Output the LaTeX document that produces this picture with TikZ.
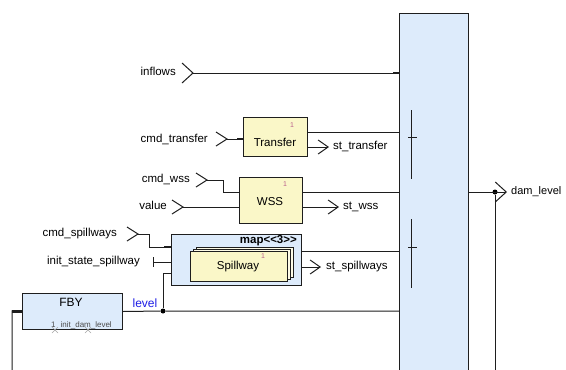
\documentclass[tikz,border=0pt]{standalone}
\usepackage{fontspec}
\setmainfont{Liberation Sans}
\usetikzlibrary{arrows.meta}

\definecolor{opfill}{RGB}{250,247,200}
\definecolor{nodefill}{RGB}{221,235,251}
\definecolor{wirecol}{RGB}{30,30,30}
\definecolor{idxcol}{RGB}{185,95,140}
\definecolor{lvlcol}{RGB}{30,30,230}

\begin{document}
\begin{tikzpicture}[x=1pt, y=-1pt, font=\fontsize{11.5}{13}\selectfont,
  >={Straight Barb[length=10pt, width=14pt]},
  wire/.style={draw=wirecol, line width=1pt},
  stub/.style={draw=wirecol, line width=2.4pt},
  box/.style={draw=wirecol, line width=1pt, anchor=north west, inner sep=0pt},
  opbox/.style={box, fill=opfill},
  bluebox/.style={box, fill=nodefill},
  inlbl/.style={anchor=east, inner sep=0pt, text height=8pt, text depth=2.5pt},
  outlbl/.style={anchor=west, inner sep=0pt, text height=8pt, text depth=2.5pt},
  idx/.style={font=\fontsize{7}{8}\selectfont, text=idxcol, inner sep=0pt},
  jn/.style={circle, fill=black, inner sep=0pt, minimum size=5pt},
  chev/.pic={\draw[wire] (-11,-7) -- (0,0) -- (-11,7);},
  bigchev/.pic={\draw[wire] (-11,-10) -- (0,0) -- (-11,10);},
  xmark/.pic={\draw[gray!70, line width=0.6pt] (-3,-3) -- (3,3) (-3,3) -- (3,-3);}]
\useasboundingbox (0,0) rectangle (566,370);
\fill[white] (0,0) rectangle (566,370);
\clip (0,0) rectangle (566,370);

% main operator block
\node[bluebox, minimum width=69, minimum height=370] (dam) at (399,13) {};
\draw[wire] (411,110) -- (411,179) (408,137) -- (417,137);
\draw[wire] (411,219) -- (411,288) (408,247) -- (417,247);

% inflows
\node[inlbl] (inflows) at (176,73) {inflows};
\coordinate (inflows-p) at (193,73);
\pic at (inflows-p) {bigchev};
\draw[wire] (inflows-p) -- (inflows-p -| dam.west);
\draw[stub] (inflows-p -| dam.west) -- ++(-6,0);

% Transfer
\node[opbox, minimum width=64, minimum height=39] (transfer) at (243,117) {};
\node (transfer-t) at (275,142) {Transfer};
\node[idx] (transfer-i) at (292,125) {1};
\node[inlbl] (cmdtr) at (208,140) {cmd\_transfer};
\coordinate (cmdtr-p) at (227,139);
\pic at (cmdtr-p) {chev};
\draw[wire] (cmdtr-p) -- (cmdtr-p -| transfer.west);
\draw[stub] (cmdtr-p -| transfer.west) -- ++(-6,0);
\draw[wire] (transfer.east |- 0,132) -- (dam.west |- 0,132);
\node[outlbl] (sttr) at (333,147) {st\_transfer};
\draw[wire, ->] (transfer.east |- sttr) -- ([xshift=-4pt]sttr.west);

% WSS
\node[opbox, minimum width=63, minimum height=46] (wss) at (239,177) {};
\node (wss-t) at (270,202) {WSS};
\node[idx] (wss-i) at (285,184) {1};
\node[inlbl] (cmdwss) at (190,180) {cmd\_wss};
\coordinate (cmdwss-p) at (207,180);
\pic at (cmdwss-p) {chev};
\draw[wire] (cmdwss-p) -- (223,180) -- (223,192) -- (wss.west |- 0,192);
\node[inlbl] (value) at (167,207) {value};
\coordinate (value-p) at (183,207);
\pic at (value-p) {chev};
\draw[wire] (value-p) -- (value-p -| wss.west);
\draw[wire] (wss.east |- 0,192) -- (dam.west |- 0,192);
\node[outlbl] (stwss) at (343,207) {st\_wss};
\draw[wire, ->] (wss.east |- stwss) -- ([xshift=-4pt]stwss.west);

% map<<3>> Spillway
\node[bluebox, minimum width=130, minimum height=51] (map) at (171,234) {};
\node[anchor=east, inner sep=0pt, font=\fontsize{11.5}{13}\selectfont\bfseries] (map-t) at (297,241) {map<\kern0pt<3>\kern0pt>};
\node[box, fill=opfill!45, minimum width=97, minimum height=30] (spw3) at (196,247) {};
\node[box, fill=opfill!45, minimum width=97, minimum height=30] (spw2) at (193,249) {};
\node[opbox, minimum width=97, minimum height=30] (spw) at (190,251) {};
\node (spw-t) at (238,267) {Spillway};
\node[idx] (spw-i) at (263,256) {1};
\node[inlbl] (cmdspw) at (117,234) {cmd\_spillways};
\coordinate (cmdspw-p) at (138,234);
\pic at (cmdspw-p) {chev};
\draw[wire] (cmdspw-p) -- (149,234) -- (149,247) -- (map.west |- 0,247);
\draw[stub] (map.west |- 0,247) -- ++(-7,0);
\node[inlbl] (initspw) at (140,262) {init\_state\_spillway};
\coordinate (initspw-p) at (153,262);
\draw[wire] (initspw-p) -- (initspw-p -| map.west);
\draw[wire] ([yshift=5pt]initspw-p) -- ([yshift=-5pt]initspw-p);
\draw[wire] (map.east |- 0,251) -- (dam.west |- 0,251);
\node[outlbl] (stspw) at (326,267) {st\_spillways};
\draw[wire, ->] (map.east |- stspw) -- ([xshift=-5pt]stspw.west);

% FBY
\node[bluebox, minimum width=100, minimum height=36] (fby) at (22,293) {};
\node[font=\fontsize{12}{14}\selectfont] (fby-t) at (71,302) {FBY};
\node[font=\fontsize{8}{9}\selectfont, text=black!70, anchor=west, inner sep=0pt] (fby-a) at (51,325) {1\hspace{5pt}init\_dam\_level};
\pic at (55,330) {xmark};
\pic at (88,330) {xmark};
\draw[wire] (fby.west) -- (12,311) -- (12,375);
\draw[stub] (fby.west) -- ++(-10,0);
\node[jn] (lvdot) at (163,311) {};
\draw[wire] (fby.east) -- (lvdot) -- (lvdot -| dam.west);
\draw[wire] (lvdot) -- (163,273) -- (map.west |- 0,273);
\node[text=lvlcol, font=\fontsize{12}{14}\selectfont] (level) at (145,303) {level};

% dam_level
\node[jn] (dmdot) at (495,192) {};
\node[outlbl, font=\fontsize{11}{13}\selectfont] (damlvl) at (511,192) {dam\_level};
\draw[wire, -{Straight Barb[length=11pt, width=20pt]}] (dam.east |- dmdot) -- ([xshift=-4pt]damlvl.west);
\draw[wire] (dmdot) -- (495,375);
\end{tikzpicture}
\end{document}
